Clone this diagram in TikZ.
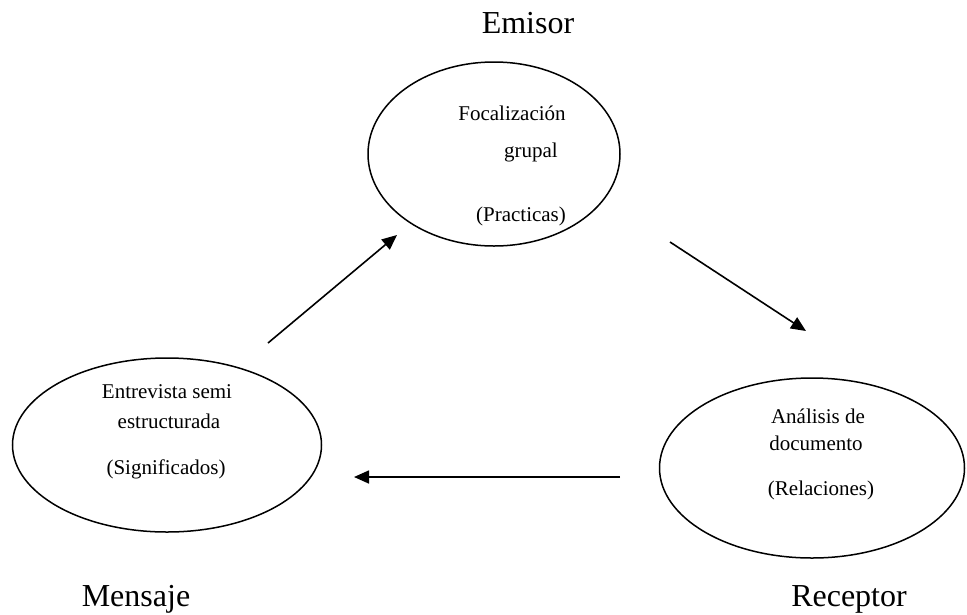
\documentclass[tikz,border=0pt]{standalone}
\usepackage{fontspec}
\setmainfont{Liberation Serif}
\usetikzlibrary{shapes.geometric,arrows.meta}
\begin{document}
\begin{tikzpicture}[x=1pt,y=-1pt,
  oval/.style={draw,ellipse,line width=1.5pt,inner sep=0pt},
  intext/.style={font=\fontsize{21}{25}\selectfont,inner sep=0pt,anchor=base},
  role/.style={font=\fontsize{32}{38}\selectfont,inner sep=0pt,anchor=base},
  flow/.style={line width=1.6pt,-{Triangle[length=15pt,width=13pt]}}]
\useasboundingbox (0,0) rectangle (967,614);
\node[oval,minimum width=252pt,minimum height=184pt] (emi) at (494,154) {};
\node[oval,minimum width=309pt,minimum height=174pt] (men) at (167,445) {};
\node[oval,minimum width=305pt,minimum height=180pt] (rec) at (812,468) {};
\node[intext] (t1) at (512,120) {Focalización};
\node[intext] (t2) at (531,157) {grupal};
\node[intext] (t3) at (521,221) {(Practicas)};
\node[intext] (l1) at (167,398) {Entrevista semi};
\node[intext] (l2) at (169,428) {estructurada};
\node[intext] (l3) at (166,474) {(Significados)};
\node[intext] (r1) at (818,423) {Análisis de};
\node[intext] (r2) at (816,450) {documento};
\node[intext] (r3) at (821,495) {(Relaciones)};
\node[role] (lab1) at (528,33) {Emisor};
\node[role] (lab2) at (136,606) {Mensaje};
\node[role] (lab3) at (849,606) {Receptor};
\coordinate (a1s) at (268,343);
\coordinate (a1e) at (397,235);
\coordinate (a2s) at (670,242);
\coordinate (a2e) at (806,331);
\coordinate (a3s) at (620,477);
\coordinate (a3e) at (354,477);
\draw[flow] (a1s) -- (a1e);
\draw[flow] (a2s) -- (a2e);
\draw[flow] (a3s) -- (a3e);
\end{tikzpicture}
\end{document}
